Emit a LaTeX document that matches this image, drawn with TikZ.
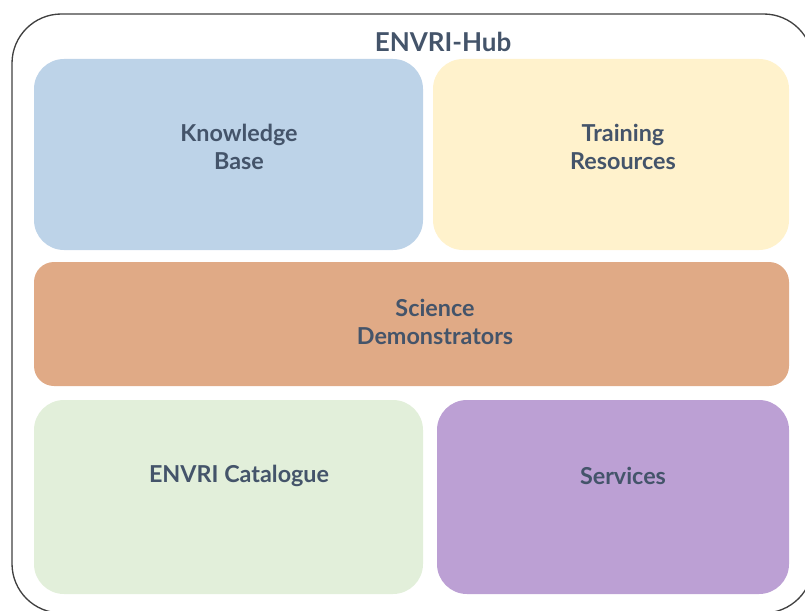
\documentclass[tikz,border=0pt]{standalone}
\usepackage{fontspec}
\setmainfont{Lato}
\usepackage{tikz}

\definecolor{hubtext}{RGB}{68,84,106}
\definecolor{kbfill}{RGB}{189,211,232}
\definecolor{trfill}{RGB}{255,242,204}
\definecolor{sdfill}{RGB}{224,170,134}
\definecolor{catfill}{RGB}{226,239,218}
\definecolor{srvfill}{RGB}{188,160,212}

\tikzset{
  block/.style={draw=none, rounded corners=22.5pt},
  label/.style={inner sep=0.75pt, align=center, text=hubtext, font=\fontsize{17.5}{21}\selectfont\bfseries},
}

\begin{document}
\begin{tikzpicture}[x=0.75pt,y=0.75pt,yscale=-1,xscale=1]
    \useasboundingbox (0,0) rectangle (805,610);
    \clip (0,0) rectangle (805,610);

    %Shape: Outer frame
    \draw [color={rgb, 255:red, 64; green, 64; blue, 64 }, line width=1pt, rounded corners=37pt] (12,14) rectangle (813,613);

    %Shape: Rounded Rect
    \fill [block, fill=kbfill] (34,59) rectangle (423,250);
    %Shape: Rounded Rect
    \fill [block, fill=trfill] (433,59) rectangle (789,250);
    %Shape: Rounded Rect
    \fill [block, fill=sdfill, rounded corners=15pt] (34,262) rectangle (789,386);
    %Shape: Rounded Rect
    \fill [block, fill=catfill] (34,400) rectangle (423,594);
    %Shape: Rounded Rect
    \fill [block, fill=srvfill] (437,400) rectangle (789,594);

    % Text Node
    \node [label, font=\fontsize{19.5}{21}\selectfont\bfseries] (hub) at (443,42) {ENVRI-Hub};
    % Text Node
    \node [label] (kb) at (239,147) {Knowledge\\Base};
    % Text Node
    \node [label] (tr) at (623,147) {Training\\Resources};
    % Text Node
    \node [label] (sd) at (435,322) {Science\\Demonstrators};
    % Text Node
    \node [label] (cat) at (239,476) {ENVRI Catalogue};
    % Text Node
    \node [label] (srv) at (623,476) {Services};

\end{tikzpicture}
\end{document}
